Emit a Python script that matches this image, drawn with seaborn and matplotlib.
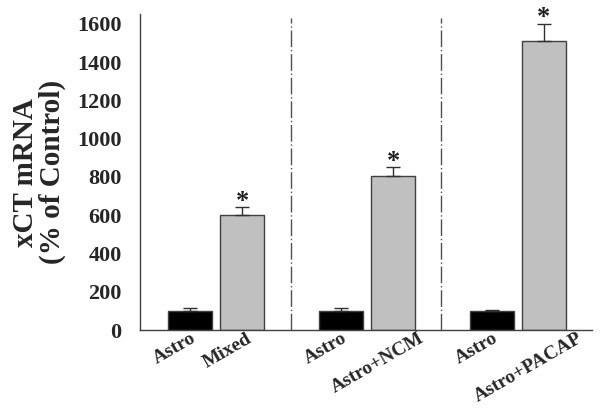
import matplotlib
matplotlib.use("Agg")
import matplotlib.pyplot as plt
import seaborn as sns
import pandas as pd
import numpy as np

groups = ["Mixed", "NCM", "PACAP"]
labels = ["Astro", "Mixed", "Astro", "Astro+NCM", "Astro", "Astro+PACAP"]
values = [100, 603, 100, 807, 100, 1512]
errors = [13, 38, 13, 43, 6, 90]
kinds = ["Astro", "Treated", "Astro", "Treated", "Astro", "Treated"]
significant = [False, True, False, True, False, True]

sns.set_theme(style="white")
plt.rcParams['font.family'] = ['Liberation Serif', 'DejaVu Serif']

pos = [3 * (i // 2) + (i % 2) * 1.04 for i in range(len(values))]
df = pd.DataFrame({"x": pos, "value": values, "kind": kinds})

fig = plt.figure(figsize=(6.0, 4.12), dpi=100)
ax = fig.add_axes([0.233, 0.199, 0.754, 0.766])

sns.barplot(data=df, x="x", y="value", hue="kind", native_scale=True,
            palette={"Astro": "#000000", "Treated": "#C0C0C0"},
            width=0.84, dodge=False, errorbar=None, legend=False, ax=ax,
            edgecolor="#404040", linewidth=1.0)

ax.errorbar(pos, values, yerr=[np.zeros(len(errors)), errors], fmt="none",
            ecolor="#303030", elinewidth=1.0, capsize=5, capthick=1.0, zorder=1)

for x, v, e, s in zip(pos, values, errors, significant):
    if s:
        ax.text(x, v + e - 4, "*", ha="center", va="baseline", fontsize=19,
                fontweight="bold", color="#202020")

for d in [2.0, 5.0]:
    ax.axvline(d, ymin=0, ymax=0.99, color="#505050", linestyle=(0, (12, 2, 1, 2)),
               linewidth=1.0)

ax.set_xlim(-1, 8)
ax.set_ylim(0, 1650)
ax.set_yticks(range(0, 1601, 200))
ax.set_yticklabels([str(t) for t in range(0, 1601, 200)], fontsize=16,
                   fontweight="bold")
ax.set_xticks([p - 0.3 for p in pos])
ax.set_xticklabels(labels, rotation=30, ha="center", va="top",
                   rotation_mode="default", fontsize=14, fontweight="bold")
ax.tick_params(axis="y", direction="out", length=5, width=1, color="#404040", pad=8)
ax.tick_params(axis="x", length=0, pad=0)
ax.set_xlabel("")
ax.set_ylabel("xCT mRNA\n(% of Control)", fontsize=21, fontweight="bold",
              linespacing=1.0, labelpad=8)

for sp in ["top", "right"]:
    ax.spines[sp].set_visible(False)
for sp in ["left", "bottom"]:
    ax.spines[sp].set_color("#404040")
    ax.spines[sp].set_linewidth(1.0)

fig.savefig("out.png", dpi=100)
